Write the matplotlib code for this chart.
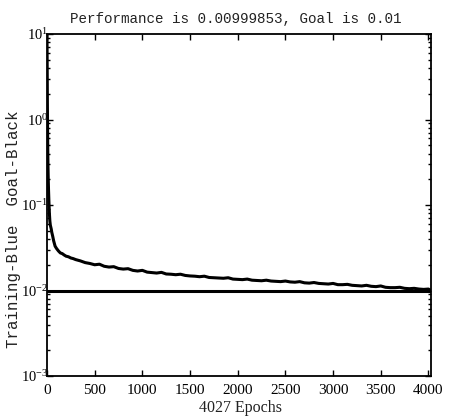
import matplotlib
matplotlib.use("Agg")
import matplotlib.pyplot as plt
from matplotlib.ticker import LogLocator, NullFormatter, FixedLocator, FuncFormatter
import math

epochs = [0, 2, 4, 6, 8, 10, 13, 16, 20, 25, 30, 35, 40, 45, 50, 60, 70, 85, 100, 120,
          140, 160, 180, 200, 225, 250, 275, 300, 350, 400, 450, 500, 550, 600, 650, 700,
          750, 800, 850, 900, 950, 1000, 1050, 1100, 1150, 1200, 1250, 1300, 1350, 1400,
          1450, 1500, 1550, 1600, 1650, 1700, 1750, 1800, 1850, 1900, 1950, 2000, 2050,
          2100, 2150, 2200, 2250, 2300, 2350, 2400, 2450, 2500, 2550, 2600, 2650, 2700,
          2750, 2800, 2850, 2900, 2950, 3000, 3050, 3100, 3150, 3200, 3250, 3300, 3350,
          3400, 3450, 3500, 3550, 3600, 3650, 3700, 3750, 3800, 3850, 3900, 3950, 4000, 4027]
performance = [9.5, 4.0, 1.6, 0.75, 0.45, 0.30, 0.20, 0.15, 0.11, 0.080, 0.065, 0.058, 0.055,
               0.052, 0.048, 0.043, 0.038, 0.033, 0.031, 0.029, 0.0275, 0.027, 0.026, 0.0252,
               0.0248, 0.0240, 0.0236, 0.0230, 0.0222, 0.0212, 0.0207, 0.0200, 0.0203, 0.0192,
               0.0188, 0.0190, 0.0181, 0.0178, 0.0180, 0.0172, 0.0169, 0.0172, 0.0164, 0.0162,
               0.0160, 0.0163, 0.0156, 0.0155, 0.0153, 0.0155, 0.0150, 0.0148, 0.0147, 0.0145,
               0.0147, 0.0142, 0.0141, 0.0140, 0.0139, 0.0141, 0.0136, 0.0135, 0.0134, 0.0136,
               0.0132, 0.0131, 0.0130, 0.0132, 0.0129, 0.0128, 0.0127, 0.0129, 0.0126, 0.0125,
               0.0127, 0.0123, 0.0122, 0.0124, 0.0121, 0.0120, 0.0119, 0.0121, 0.0117, 0.0117,
               0.0118, 0.0115, 0.0114, 0.0113, 0.0115, 0.0112, 0.0111, 0.0113, 0.0109, 0.0108,
               0.0108, 0.0109, 0.0106, 0.0105, 0.0106, 0.0104, 0.0103, 0.0104, 0.00999853]
goal = 0.01
x_ticks = [0, 500, 1000, 1500, 2000, 2500, 3000, 3500, 4000]
title_text = "Performance is 0.00999853, Goal is 0.01"
ylabel_text = "Training-Blue  Goal-Black"
xlabel_text = "4027 Epochs"

plt.rcParams['mathtext.fontset'] = 'custom'
plt.rcParams['mathtext.rm'] = 'Liberation Serif'
plt.rcParams['mathtext.it'] = 'Liberation Serif'

fig = plt.figure(figsize=(4.5, 4.17), dpi=100)
ax = fig.add_axes([47/450, 41/417, 384/450, 342/417])
ax.semilogy(epochs, performance, color='black', lw=2.2)
ax.axhline(goal, color='black', lw=2.2)
ax.set_xlim(0, 4027)
ax.set_ylim(1e-3, 1e1)
ax.xaxis.set_major_locator(FixedLocator(x_ticks))
ax.yaxis.set_major_locator(LogLocator(base=10, numticks=10))
ax.yaxis.set_minor_locator(LogLocator(base=10, subs=range(2, 10), numticks=10))
ax.yaxis.set_minor_formatter(NullFormatter())
ax.yaxis.set_major_formatter(FuncFormatter(
    lambda v, p: r'$\mathregular{10^{%d}}$' % round(math.log10(v))))
ax.tick_params(which='both', direction='in', top=True, right=True, width=1.0)
ax.tick_params(which='major', length=4.5, labelsize=11, pad=6)
ax.tick_params(axis='y', which='major', pad=-1, labelsize=10.5)
ax.tick_params(which='minor', length=2.5)
for lab in ax.get_xticklabels() + ax.get_yticklabels():
    lab.set_family('Liberation Serif')
for s in ax.spines.values():
    s.set_linewidth(1.3)

fig.text(0.525, 0.972, title_text, ha='center', va='top', fontsize=10.3,
         family='Liberation Mono', color='#222222')
fig.text(0.03, 0.45, ylabel_text, ha='center', va='center', rotation=90,
         fontsize=11.3, family='Liberation Mono', color='#222222')
fig.text(0.535, 0.002, xlabel_text, ha='center', va='bottom', fontsize=11.5,
         family='Liberation Serif', color='#222222')

fig.savefig('out.png', dpi=100)
